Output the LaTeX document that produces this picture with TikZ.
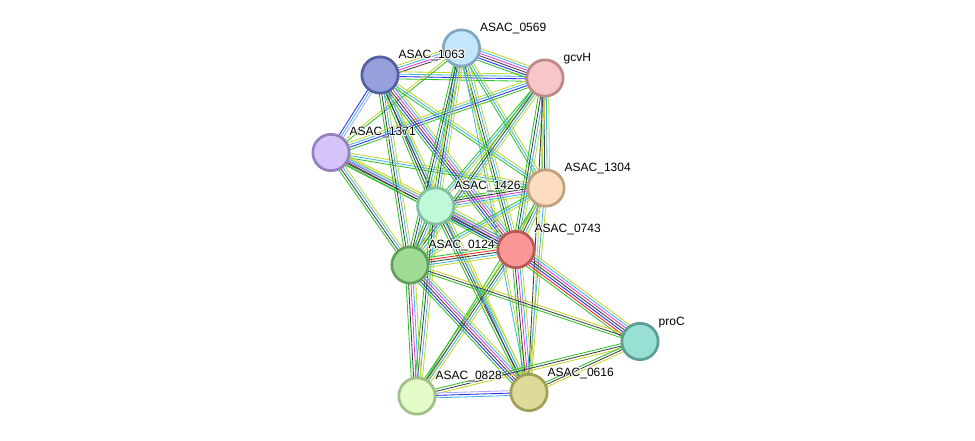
\documentclass[tikz,border=0pt]{standalone}
\usepackage{fontspec}
\setmainfont{Liberation Sans}
\usetikzlibrary{calc}
\pgfdeclarelayer{bg}
\pgfsetlayers{bg,main}
\definecolor{ecg}{HTML}{2EC22E}
\definecolor{ecy}{HTML}{C4D62E}
\definecolor{eck}{HTML}{404040}
\definecolor{ecc}{HTML}{3DB8E2}
\definecolor{ecm}{HTML}{DE3CDE}
\definecolor{ecb}{HTML}{2A2AF2}
\definecolor{ecr}{HTML}{FF2020}
\definecolor{ech}{HTML}{A8A8FF}
\newcommand\edg[3]{%
  \foreach \cc [count=\ii] in {#3} {\xdef\ncount{\ii}}%
  \foreach \cc [count=\ii] in {#3} {%
    \pgfmathsetmacro\off{(\ii-(\ncount+1)/2)*2.4}%
    \draw[edgeline, draw=ec\cc] ($(#1.center)!\off pt!90:(#2.center)$) -- ($(#2.center)!\off pt!-90:(#1.center)$);
  }%
}
\newcommand\lbl[2]{%
  \foreach \dx/\dy in {0.8/0,-0.8/0,0/0.8,0/-0.8,0.6/0.6,-0.6/0.6,0.6/-0.6,-0.6/-0.6}
    \node[lbltext, text=white] at ($(#1.center)+(18.5+\dx,-16.5+\dy)$) {#2};
  \node[lbltext] (#1l) at ($(#1.center)+(18.5,-16.5)$) {#2};
}
\begin{document}
\begin{tikzpicture}[x=1pt,y=-1pt,
  nd/.style={circle, line width=2.7pt, minimum size=36.3pt, inner sep=0pt},
  edgeline/.style={line width=0.85pt},
  lbltext/.style={anchor=base west, inner sep=0pt, font=\fontsize{12}{14}\selectfont, text=black}]
\useasboundingbox (0,0) rectangle (975,441);
\node[nd, fill={rgb,255:red,194;green,230;blue,250}, draw={rgb,255:red,128;green,166;blue,192}] (A) at (461.5,48) {};
\node[nd, fill={rgb,255:red,150;green,160;blue,220}, draw={rgb,255:red,85;green,96;blue,160}] (B) at (380,75) {};
\node[nd, fill={rgb,255:red,247;green,198;blue,198}, draw={rgb,255:red,188;green,136;blue,136}] (C) at (545,78) {};
\node[nd, fill={rgb,255:red,212;green,196;blue,250}, draw={rgb,255:red,149;green,128;blue,192}] (D) at (331,152.5) {};
\node[nd, fill={rgb,255:red,253;green,221;blue,192}, draw={rgb,255:red,192;green,160;blue,128}] (E) at (546,188) {};
\node[nd, fill={rgb,255:red,192;green,248;blue,218}, draw={rgb,255:red,128;green,192;blue,160}] (F) at (435.7,206) {};
\node[nd, fill={rgb,255:red,250;green,150;blue,150}, draw={rgb,255:red,186;green,88;blue,88}] (G) at (516,249.5) {};
\node[nd, fill={rgb,255:red,160;green,220;blue,150}, draw={rgb,255:red,96;green,160;blue,88}] (H) at (410,265) {};
\node[nd, fill={rgb,255:red,152;green,223;blue,212}, draw={rgb,255:red,90;green,158;blue,149}] (I) at (640,341.5) {};
\node[nd, fill={rgb,255:red,228;green,253;blue,200}, draw={rgb,255:red,160;green,192;blue,136}] (J) at (417,396) {};
\node[nd, fill={rgb,255:red,222;green,218;blue,152}, draw={rgb,255:red,160;green,160;blue,85}] (K) at (529,392.5) {};
\begin{pgfonlayer}{bg}
\fill[white] (0,0) rectangle (975,441);
\edg{B}{A}{k,m,c,y}
\edg{B}{C}{g,b,c,y}
\edg{A}{C}{g,b,k,m,c,y}
\edg{B}{D}{b,c,h}
\edg{D}{C}{g,b,c,y}
\edg{D}{A}{g,y}
\edg{D}{E}{g,c,y}
\edg{D}{F}{g,k,m,c,y}
\edg{D}{G}{g,k,c,y}
\edg{D}{H}{g,k,c,y}
\edg{B}{F}{g,k,c,y}
\edg{B}{G}{g,b,k,m,c,y}
\edg{B}{H}{g,k,c,y}
\edg{B}{E}{g,c,y}
\edg{B}{K}{k,c,y}
\edg{A}{F}{g,k,c,y}
\edg{A}{G}{g,k,c,y}
\edg{A}{H}{g,k,c,y}
\edg{A}{E}{g,c,y}
\edg{A}{K}{c,y}
\edg{C}{E}{g,k,c,y}
\edg{C}{G}{g,k,c,y}
\edg{C}{F}{g,c,y}
\edg{C}{H}{g,k,c,y}
\edg{C}{K}{k,y}
\edg{E}{F}{g,k,m,c,y}
\edg{E}{G}{g,k,c,y}
\edg{E}{H}{g,c,y}
\edg{E}{K}{c,y}
\edg{E}{J}{g,y}
\edg{F}{G}{g,b,k,m,c,y}
\edg{F}{H}{g,k,c,y}
\edg{F}{J}{g,k,c,y}
\edg{F}{K}{g,k,c,y}
\edg{G}{H}{g,r,k,c,y}
\edg{G}{I}{g,r,b,k,m,c,y}
\edg{G}{J}{g,k,c,y}
\edg{G}{K}{g,k,m,c,y}
\edg{H}{I}{g,k,y}
\edg{H}{J}{g,k,m,c,y}
\edg{H}{K}{g,b,k,m,c,y}
\edg{I}{J}{g,k,y}
\edg{I}{K}{g,k,y}
\edg{J}{K}{c,b,h}
\end{pgfonlayer}
\lbl{A}{ASAC\_0569}
\lbl{B}{ASAC\_1063}
\lbl{C}{gcvH}
\lbl{D}{ASAC\_1371}
\lbl{E}{ASAC\_1304}
\lbl{F}{ASAC\_1426}
\lbl{G}{ASAC\_0743}
\lbl{H}{ASAC\_0124}
\lbl{I}{proC}
\lbl{J}{ASAC\_0828}
\lbl{K}{ASAC\_0616}
\end{tikzpicture}
\end{document}
